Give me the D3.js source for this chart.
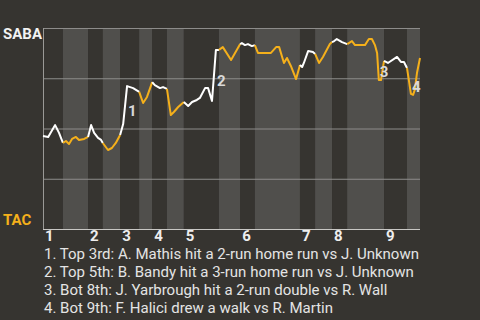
<!DOCTYPE html>
<html>
<head>
<meta charset="utf-8">
<script src="https://cdn.jsdelivr.net/npm/d3@7"></script>
<style>
  body { margin: 0; background: #363430; }
  svg { display: block; }
</style>
</head>
<body>
<script>
const W = 480, H = 320;
const m = { left: 43, right: 420, top: 28, bottom: 229 };

// team names (top = away, bottom = home)
const teams = ['SABA', 'TAC'];
const innings = ['1', '2', '3', '4', '5', '6', '7', '8', '9'];
// play index where each half inning starts (top 1st, bot 1st, top 2nd ...)
const halfStarts = [0, 4.6, 10.4, 13.8, 17.8, 22.2, 25.2, 28.6, 32.5, 40.6, 45.5, 48.9, 59.3, 62.8, 66.7, 70.2, 78.7, 84.0];
const totalPlays = 87;

// SABA win probability (%) after each play, grouped by half inning
const wpHalves = [
  [[0, 46.3], [1.2, 45.8], [2.8, 51.7], [3.7, 47.8], [4.6, 42.8]],
  [[5.3, 43.8], [6.0, 42.3], [6.7, 44.8], [7.6, 45.8], [8.3, 44.3], [9.5, 44.8], [10.4, 45.8]],
  [[11.1, 51.7], [11.8, 47.8], [12.7, 45.3], [13.4, 44.3], [13.8, 42.8]],
  [[15.0, 39.3], [15.9, 40.3], [16.8, 42.8], [17.8, 46.8]],
  [[18.5, 52.2], [19.4, 71.1], [20.8, 70.1], [22.2, 68.2]],
  [[23.1, 62.7], [24.0, 65.7], [25.2, 73.1]],
  [[25.8, 71.6], [27.0, 70.1], [27.7, 70.6], [28.6, 69.7]],
  [[29.5, 56.7], [30.2, 58.2], [31.2, 60.7], [32.5, 63.2]],
  [[33.5, 61.2], [34.4, 63.2], [35.5, 64.2], [36.2, 65.2], [37.4, 70.1], [38.1, 70.1], [39.0, 63.7], [39.9, 89.1], [40.6, 89.1]],
  [[41.5, 90.5], [43.4, 84.1], [45.5, 92.0]],
  [[45.9, 92.5], [46.6, 91.5], [47.3, 92.0], [48.2, 91.0], [48.9, 91.5]],
  [[49.6, 87.6], [52.6, 87.6], [53.8, 90.5], [54.5, 90.5], [55.6, 82.6], [56.3, 85.1], [57.2, 81.1], [58.4, 74.6], [59.3, 81.6]],
  [[59.8, 80.6], [60.2, 82.6], [61.2, 88.6], [62.3, 88.1], [62.8, 87.1]],
  [[63.7, 82.6], [64.6, 85.6], [66.2, 92.0], [66.7, 93.0]],
  [[67.2, 93.5], [67.8, 94.5], [69.0, 93.0], [70.2, 92.0]],
  [[71.3, 93.5], [72.0, 91.5], [74.3, 91.5], [75.2, 94.5], [75.9, 94.5], [76.6, 91.5], [77.1, 87.6], [77.5, 74.1], [78.0, 74.1], [78.7, 83.6]],
  [[79.6, 82.6], [81.7, 85.6], [82.6, 83.1], [83.3, 83.1], [84.0, 80.1]],
  [[84.5, 73.1], [84.9, 67.2], [85.4, 66.7], [85.8, 69.2], [86.3, 77.6], [87.0, 85.1]]
];

// key plays: [before, after] points
const keyPlays = [[[18.5, 52.2], [19.4, 71.1]], [[39.0, 63.7], [39.9, 89.1]], [[77.1, 87.6], [77.5, 74.1]], [[84.0, 80.1], [84.9, 67.2]]];
const keyText = [
  '1. Top 3rd: A. Mathis hit a 2-run home run vs J. Unknown',
  '2. Top 5th: B. Bandy hit a 3-run home run vs J. Unknown',
  '3. Bot 8th: J. Yarbrough hit a 2-run double vs R. Wall',
  '4. Bot 9th: F. Halici drew a walk vs R. Martin'
];

const x = d3.scaleLinear().domain([0, totalPlays]).range([m.left, m.right]);
const y = d3.scaleLinear().domain([0, 100]).range([m.bottom, m.top]);

const svg = d3.select('body').append('svg').attr('width', W).attr('height', H);
svg.append('rect').attr('width', W).attr('height', H).attr('fill', '#363430');

// half inning bands
const ends = halfStarts.slice(1).concat([totalPlays]);
svg.append('g').selectAll('rect').data(halfStarts).enter().append('rect')
  .attr('x', d => x(d))
  .attr('width', (d, i) => x(ends[i]) - x(d))
  .attr('y', m.top).attr('height', m.bottom - m.top)
  .attr('fill', (d, i) => i % 2 ? '#504f4c' : '#363430');

// grid
const yAxis = d3.axisLeft(y).tickValues([25, 50, 75, 100]).tickSize(-(m.right - m.left)).tickFormat('');
svg.append('g').attr('transform', 'translate(' + m.left + ',0)').call(yAxis)
  .call(g => g.select('.domain').remove())
  .selectAll('line').attr('stroke', '#8d8c8a').attr('stroke-width', 1);

svg.append('line').attr('x1', m.left + 0.5).attr('x2', m.left + 0.5).attr('y1', m.top).attr('y2', m.bottom)
  .attr('stroke', '#9a9996');
svg.append('line').attr('x1', m.left).attr('x2', m.right).attr('y1', m.bottom + 0.5).attr('y2', m.bottom + 0.5)
  .attr('stroke', '#c8c7c4');

// inning labels
svg.append('g').selectAll('text').data(innings).enter().append('text')
  .attr('x', (d, i) => x(halfStarts[i * 2]) + 2)
  .attr('y', 241)
  .attr('fill', '#eeeeee')
  .style('font', 'bold 15px Roboto')
  .text(d => d);

// team labels
svg.append('text').attr('x', 3).attr('y', 39).attr('fill', '#f2f2f2')
  .style('font', 'bold 15px Roboto').text(teams[0]);
svg.append('text').attr('x', 3).attr('y', 225).attr('fill', '#f5b01b')
  .style('font', 'bold 15px Roboto').text(teams[1]);

// win probability line, one path per half inning
const line = d3.line().x(d => x(d[0])).y(d => y(d[1]));
wpHalves.forEach(function (pts, i) {
  const seg = i > 0 ? [wpHalves[i - 1][wpHalves[i - 1].length - 1]].concat(pts) : pts;
  svg.append('path').datum(seg)
    .attr('d', line)
    .attr('fill', 'none')
    .attr('stroke', i % 2 ? '#f5b01b' : '#ffffff')
    .attr('stroke-width', 2)
    .attr('stroke-linejoin', 'round');
});

// key play markers
svg.append('g').selectAll('text').data(keyPlays).enter().append('text')
  .attr('x', d => x(d[1][0]) + 1)
  .attr('y', d => y((d[0][1] + d[1][1]) / 2) + 11)
  .attr('fill', '#d9d9d9')
  .style('font', 'bold 15px Roboto')
  .text((d, i) => i + 1);

// legend
svg.append('g').selectAll('text').data(keyText).enter().append('text')
  .attr('x', 44)
  .attr('y', (d, i) => 259 + i * 18)
  .attr('fill', '#e4e4e4')
  .style('font', '15px Roboto')
  .text(d => d);
</script>
</body>
</html>
